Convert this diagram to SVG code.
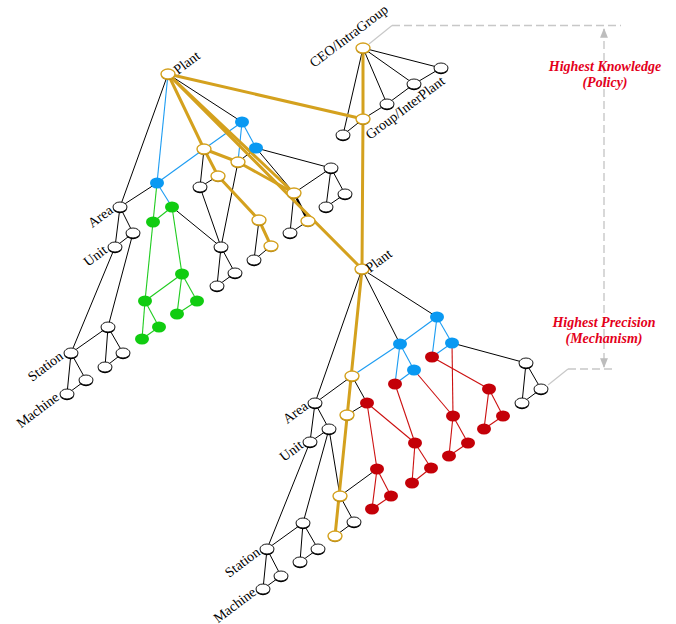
<svg xmlns="http://www.w3.org/2000/svg" xmlns:xlink="http://www.w3.org/1999/xlink" width="676" height="624" viewBox="0 0 676 624">
<style>
.k{stroke:#000;stroke-width:1;fill:none}
.kt{stroke:#000;stroke-width:2.4;fill:none}
.b{stroke:#1c9cf2;stroke-width:1.1;fill:none}
.g{stroke:#1fcc1f;stroke-width:1.1;fill:none}
.r{stroke:#cc1010;stroke-width:1.1;fill:none}
.au{stroke:#d4a11e;stroke-width:3;fill:none;stroke-linecap:round}
.gr{stroke:#c8c8c8;stroke-width:1.2;fill:none}
.dash{stroke:#c8c8c8;stroke-width:1.4;fill:none;stroke-dasharray:8 4}
.lbl{font-family:"Liberation Serif","Times New Roman",serif;font-size:14px;fill:#000}
.red{font-family:"Liberation Serif","Times New Roman",serif;font-size:14px;font-weight:bold;font-style:italic;fill:#e4001b;text-anchor:middle}
</style>
<defs>
<g id="nw"><ellipse cy="1.3" rx="7" ry="5" fill="#000"/><ellipse rx="7" ry="5" fill="#fff" stroke="#000" stroke-width="0.9"/></g>
<g id="ng"><ellipse cy="1.3" rx="7" ry="5" fill="#a57d12"/><ellipse rx="7" ry="5" fill="#fff" stroke="#d4a11e" stroke-width="1.4"/></g>
<ellipse id="nb" rx="7" ry="5.5" fill="#0a99f2"/>
<ellipse id="ngr" rx="7" ry="5.5" fill="#11cc11"/>
<ellipse id="nr" rx="7" ry="5.5" fill="#c40008"/>
<marker id="ah" viewBox="0 0 10 10" refX="9" refY="5" markerWidth="7" markerHeight="7" orient="auto-start-reverse"><path d="M0,1 L10,5 L0,9 z" fill="#bdbdbd"/></marker>
</defs>

<g id="guides">
<line class="gr" x1="369" y1="44" x2="392" y2="25.5"/>
<line class="dash" x1="392" y1="25.5" x2="621" y2="25.5"/>
<line class="gr" x1="548" y1="385" x2="568" y2="369"/>
<line class="dash" x1="568" y1="369" x2="614" y2="369"/>
<line class="dash" x1="604" y1="29" x2="604" y2="367" marker-start="url(#ah)" marker-end="url(#ah)"/>
</g>

<g id="connectors">
<!-- top -->
<line class="k" x1="363" y1="48" x2="343" y2="135"/>
<line class="k" x1="363" y1="48" x2="387" y2="104"/>
<line class="k" x1="363" y1="48" x2="414" y2="84"/>
<line class="k" x1="363" y1="48" x2="441" y2="68"/>
<line class="k" x1="343" y1="135" x2="363" y2="119"/>
<line class="k" x1="363" y1="119" x2="387" y2="104"/>
<line class="k" x1="387" y1="104" x2="414" y2="84"/>
<line class="k" x1="414" y1="84" x2="441" y2="68"/>
<!-- left black -->
<line class="k" x1="168" y1="74" x2="120" y2="207"/>
<line class="k" x1="168" y1="74" x2="242" y2="122"/>
<line class="k" x1="256" y1="148" x2="238" y2="162"/>
<line class="k" x1="256" y1="148" x2="331" y2="168"/>
<line class="k" x1="256" y1="148" x2="294" y2="193"/>
<line class="k" x1="331" y1="168" x2="294" y2="193"/>
<line class="k" x1="331" y1="168" x2="345" y2="194"/>
<line class="k" x1="331" y1="168" x2="326" y2="207"/>
<line class="k" x1="326" y1="207" x2="345" y2="194"/>
<line class="k" x1="294" y1="193" x2="290" y2="233"/>
<line class="k" x1="290" y1="233" x2="308" y2="221"/>
<line class="kt" x1="294" y1="193" x2="308" y2="221"/>
<line class="k" x1="204" y1="149" x2="200" y2="187"/>
<line class="k" x1="200" y1="187" x2="218" y2="176"/>
<line class="k" x1="200" y1="187" x2="221" y2="247"/>
<line class="k" x1="238" y1="162" x2="221" y2="247"/>
<line class="k" x1="221" y1="247" x2="235" y2="273"/>
<line class="k" x1="221" y1="247" x2="217" y2="286"/>
<line class="k" x1="217" y1="286" x2="235" y2="273"/>
<line class="k" x1="259" y1="220" x2="254" y2="260"/>
<line class="k" x1="254" y1="260" x2="271" y2="246"/>
<line class="k" x1="157" y1="183" x2="120" y2="207"/>
<line class="k" x1="172" y1="207" x2="221" y2="247"/>
<line class="k" x1="120" y1="207" x2="133" y2="233"/>
<line class="k" x1="120" y1="207" x2="115" y2="247"/>
<line class="k" x1="115" y1="247" x2="133" y2="233"/>
<line class="k" x1="115" y1="247" x2="71" y2="353"/>
<line class="k" x1="133" y1="233" x2="108" y2="327"/>
<line class="k" x1="71" y1="353" x2="108" y2="327"/>
<line class="k" x1="108" y1="327" x2="105" y2="367"/>
<line class="k" x1="108" y1="327" x2="123" y2="353"/>
<line class="k" x1="105" y1="367" x2="123" y2="353"/>
<line class="k" x1="71" y1="353" x2="67" y2="394"/>
<line class="k" x1="71" y1="353" x2="86" y2="380"/>
<line class="k" x1="67" y1="394" x2="86" y2="380"/>
<!-- left blue -->
<line class="b" x1="168" y1="74" x2="157" y2="183"/>
<line class="b" x1="242" y1="122" x2="256" y2="148"/>
<line class="b" x1="242" y1="122" x2="204" y2="149"/>
<line class="b" x1="242" y1="122" x2="238" y2="162"/>
<line class="b" x1="204" y1="149" x2="157" y2="183"/>
<line class="b" x1="157" y1="183" x2="172" y2="207"/>
<!-- left green -->
<line class="g" x1="157" y1="183" x2="153" y2="222"/>
<line class="g" x1="172" y1="207" x2="153" y2="222"/>
<line class="g" x1="172" y1="207" x2="182" y2="274"/>
<line class="g" x1="153" y1="222" x2="145" y2="301"/>
<line class="g" x1="182" y1="274" x2="145" y2="301"/>
<line class="g" x1="182" y1="274" x2="177" y2="314"/>
<line class="g" x1="182" y1="274" x2="197" y2="301"/>
<line class="g" x1="177" y1="314" x2="197" y2="301"/>
<line class="g" x1="145" y1="301" x2="142" y2="339"/>
<line class="g" x1="145" y1="301" x2="159" y2="327"/>
<line class="g" x1="142" y1="339" x2="159" y2="327"/>
<!-- right black -->
<line class="k" x1="362" y1="269" x2="315" y2="403"/>
<line class="k" x1="362" y1="269" x2="400" y2="344"/>
<line class="k" x1="362" y1="269" x2="437" y2="317"/>
<line class="k" x1="452" y1="343" x2="526" y2="363"/>
<line class="k" x1="526" y1="363" x2="541" y2="389"/>
<line class="k" x1="526" y1="363" x2="522" y2="403"/>
<line class="k" x1="522" y1="403" x2="541" y2="389"/>
<line class="k" x1="352" y1="376" x2="315" y2="403"/>
<line class="k" x1="352" y1="376" x2="367" y2="403"/>
<line class="k" x1="347" y1="415" x2="367" y2="403"/>
<line class="k" x1="315" y1="403" x2="329" y2="429"/>
<line class="k" x1="315" y1="403" x2="310" y2="442"/>
<line class="k" x1="310" y1="442" x2="329" y2="429"/>
<line class="k" x1="329" y1="429" x2="340" y2="496"/>
<line class="k" x1="329" y1="429" x2="303" y2="523"/>
<line class="k" x1="310" y1="442" x2="267" y2="549"/>
<line class="k" x1="267" y1="549" x2="303" y2="523"/>
<line class="k" x1="303" y1="523" x2="300" y2="562"/>
<line class="k" x1="303" y1="523" x2="318" y2="549"/>
<line class="k" x1="300" y1="562" x2="318" y2="549"/>
<line class="k" x1="267" y1="549" x2="263" y2="589"/>
<line class="k" x1="267" y1="549" x2="281" y2="576"/>
<line class="k" x1="263" y1="589" x2="281" y2="576"/>
<line class="k" x1="340" y1="496" x2="377" y2="469"/>
<line class="k" x1="340" y1="496" x2="354" y2="522"/>
<line class="k" x1="354" y1="522" x2="335" y2="536"/>
<!-- right blue -->
<line class="b" x1="437" y1="317" x2="400" y2="344"/>
<line class="b" x1="437" y1="317" x2="452" y2="343"/>
<line class="b" x1="437" y1="317" x2="432" y2="357"/>
<line class="b" x1="452" y1="343" x2="432" y2="357"/>
<line class="b" x1="400" y1="344" x2="352" y2="376"/>
<line class="b" x1="400" y1="344" x2="414" y2="370"/>
<line class="b" x1="400" y1="344" x2="395" y2="384"/>
<line class="b" x1="414" y1="370" x2="395" y2="384"/>
<!-- right red -->
<line class="r" x1="432" y1="357" x2="489" y2="389"/>
<line class="r" x1="489" y1="389" x2="484" y2="429"/>
<line class="r" x1="489" y1="389" x2="503" y2="416"/>
<line class="r" x1="484" y1="429" x2="503" y2="416"/>
<line class="r" x1="452" y1="343" x2="453" y2="416"/>
<line class="r" x1="414" y1="370" x2="453" y2="416"/>
<line class="r" x1="453" y1="416" x2="468" y2="443"/>
<line class="r" x1="453" y1="416" x2="449" y2="456"/>
<line class="r" x1="449" y1="456" x2="468" y2="443"/>
<line class="r" x1="395" y1="384" x2="415" y2="443"/>
<line class="r" x1="367" y1="403" x2="415" y2="443"/>
<line class="r" x1="367" y1="403" x2="377" y2="469"/>
<line class="r" x1="415" y1="443" x2="431" y2="468"/>
<line class="r" x1="415" y1="443" x2="412" y2="483"/>
<line class="r" x1="412" y1="483" x2="431" y2="468"/>
<line class="r" x1="377" y1="469" x2="391" y2="496"/>
<line class="r" x1="377" y1="469" x2="372" y2="509"/>
<line class="r" x1="372" y1="509" x2="391" y2="496"/>
<!-- gold -->
<line class="au" x1="168" y1="74" x2="363" y2="119"/>
<line class="au" x1="363" y1="48" x2="363" y2="119"/>
<line class="au" x1="363" y1="119" x2="362" y2="269"/>
<line class="au" x1="362" y1="269" x2="335" y2="536"/>
<line class="au" x1="168" y1="74" x2="362" y2="269"/>
<line class="au" x1="168" y1="74" x2="294" y2="193"/>
<line class="au" x1="168" y1="74" x2="204" y2="149"/>
<line class="au" x1="204" y1="149" x2="238" y2="162"/>
<line class="au" x1="238" y1="162" x2="294" y2="193"/>
<line class="au" x1="204" y1="149" x2="218" y2="176"/>
<line class="au" x1="218" y1="176" x2="259" y2="220"/>
<line class="au" x1="259" y1="220" x2="271" y2="246"/>
</g>

<g id="T_ceo"><use href="#ng" x="363" y="48"/></g>
<g id="T_gip"><use href="#ng" x="363" y="119"/></g>
<g id="T_a"><use href="#nw" x="343" y="135"/></g>
<g id="T_b"><use href="#nw" x="387" y="104"/></g>
<g id="T_c"><use href="#nw" x="414" y="84"/></g>
<g id="T_d"><use href="#nw" x="441" y="68"/></g>

<g id="L_plant"><use href="#ng" x="168" y="74"/></g>
<g id="L_b1"><use href="#nb" x="242" y="122"/></g>
<g id="L_b2"><use href="#nb" x="256" y="148"/></g>
<g id="L_g1"><use href="#ng" x="204" y="149"/></g>
<g id="L_g2"><use href="#ng" x="238" y="162"/></g>
<g id="L_g3"><use href="#ng" x="218" y="176"/></g>
<g id="L_b3"><use href="#nb" x="157" y="183"/></g>
<g id="L_w1"><use href="#nw" x="200" y="187"/></g>
<g id="L_w2"><use href="#nw" x="331" y="168"/></g>
<g id="L_w3"><use href="#nw" x="345" y="194"/></g>
<g id="L_w4"><use href="#nw" x="326" y="207"/></g>
<g id="L_g4"><use href="#ng" x="294" y="193"/></g>
<g id="L_g5"><use href="#ng" x="308" y="221"/></g>
<g id="L_w5"><use href="#nw" x="290" y="233"/></g>
<g id="L_w6"><use href="#nw" x="221" y="247"/></g>
<g id="L_w7"><use href="#nw" x="235" y="273"/></g>
<g id="L_w8"><use href="#nw" x="217" y="286"/></g>
<g id="L_g6"><use href="#ng" x="259" y="220"/></g>
<g id="L_g7"><use href="#ng" x="271" y="246"/></g>
<g id="L_w9"><use href="#nw" x="254" y="260"/></g>
<g id="L_gr1"><use href="#ngr" x="172" y="207"/></g>
<g id="L_gr2"><use href="#ngr" x="153" y="222"/></g>
<g id="L_gr3"><use href="#ngr" x="182" y="274"/></g>
<g id="L_gr4"><use href="#ngr" x="145" y="301"/></g>
<g id="L_gr5"><use href="#ngr" x="197" y="301"/></g>
<g id="L_gr6"><use href="#ngr" x="159" y="327"/></g>
<g id="L_gr7"><use href="#ngr" x="142" y="339"/></g>
<g id="L_gr8"><use href="#ngr" x="177" y="314"/></g>
<g id="L_area"><use href="#nw" x="120" y="207"/></g>
<g id="L_w10"><use href="#nw" x="133" y="233"/></g>
<g id="L_unit"><use href="#nw" x="115" y="247"/></g>
<g id="L_w11"><use href="#nw" x="108" y="327"/></g>
<g id="L_station"><use href="#nw" x="71" y="353"/></g>
<g id="L_w12"><use href="#nw" x="123" y="353"/></g>
<g id="L_w13"><use href="#nw" x="105" y="367"/></g>
<g id="L_w14"><use href="#nw" x="86" y="380"/></g>
<g id="L_machine"><use href="#nw" x="67" y="394"/></g>

<g id="R_plant"><use href="#ng" x="362" y="269"/></g>
<g id="R_b1"><use href="#nb" x="437" y="317"/></g>
<g id="R_b2"><use href="#nb" x="400" y="344"/></g>
<g id="R_b3"><use href="#nb" x="452" y="343"/></g>
<g id="R_b4"><use href="#nb" x="414" y="370"/></g>
<g id="R_r1"><use href="#nr" x="432" y="357"/></g>
<g id="R_r2"><use href="#nr" x="395" y="384"/></g>
<g id="R_w1"><use href="#nw" x="526" y="363"/></g>
<g id="R_w2"><use href="#nw" x="541" y="389"/></g>
<g id="R_w3"><use href="#nw" x="522" y="403"/></g>
<g id="R_g1"><use href="#ng" x="352" y="376"/></g>
<g id="R_g2"><use href="#ng" x="347" y="415"/></g>
<g id="R_r3"><use href="#nr" x="367" y="403"/></g>
<g id="R_r4"><use href="#nr" x="489" y="389"/></g>
<g id="R_r5"><use href="#nr" x="503" y="416"/></g>
<g id="R_r6"><use href="#nr" x="484" y="429"/></g>
<g id="R_r7"><use href="#nr" x="453" y="416"/></g>
<g id="R_r8"><use href="#nr" x="468" y="443"/></g>
<g id="R_r9"><use href="#nr" x="449" y="456"/></g>
<g id="R_r10"><use href="#nr" x="415" y="443"/></g>
<g id="R_r11"><use href="#nr" x="431" y="468"/></g>
<g id="R_r12"><use href="#nr" x="412" y="483"/></g>
<g id="R_r13"><use href="#nr" x="377" y="469"/></g>
<g id="R_r14"><use href="#nr" x="391" y="496"/></g>
<g id="R_r15"><use href="#nr" x="372" y="509"/></g>
<g id="R_area"><use href="#nw" x="315" y="403"/></g>
<g id="R_w4"><use href="#nw" x="329" y="429"/></g>
<g id="R_unit"><use href="#nw" x="310" y="442"/></g>
<g id="R_g3"><use href="#ng" x="340" y="496"/></g>
<g id="R_w5"><use href="#nw" x="354" y="522"/></g>
<g id="R_g4"><use href="#ng" x="335" y="536"/></g>
<g id="R_w6"><use href="#nw" x="303" y="523"/></g>
<g id="R_station"><use href="#nw" x="267" y="549"/></g>
<g id="R_w7"><use href="#nw" x="318" y="549"/></g>
<g id="R_w8"><use href="#nw" x="300" y="562"/></g>
<g id="R_w9"><use href="#nw" x="281" y="576"/></g>
<g id="R_machine"><use href="#nw" x="263" y="589"/></g>

<g id="labels">
<text class="lbl" transform="translate(178,75) rotate(-37)">Plant</text>
<text class="lbl" transform="translate(314,68) rotate(-37)">CEO/IntraGroup</text>
<text class="lbl" transform="translate(370,140) rotate(-37)">Group/InterPlant</text>
<text class="lbl" transform="translate(370,273) rotate(-37)">Plant</text>
<text class="lbl" text-anchor="end" transform="translate(114,212) rotate(-37)">Area</text>
<text class="lbl" text-anchor="end" transform="translate(108,252) rotate(-37)">Unit</text>
<text class="lbl" text-anchor="end" transform="translate(64,358) rotate(-37)">Station</text>
<text class="lbl" text-anchor="end" transform="translate(60,399) rotate(-37)">Machine</text>
<text class="lbl" text-anchor="end" transform="translate(309,408) rotate(-37)">Area</text>
<text class="lbl" text-anchor="end" transform="translate(304,447) rotate(-37)">Unit</text>
<text class="lbl" text-anchor="end" transform="translate(261,554) rotate(-37)">Station</text>
<text class="lbl" text-anchor="end" transform="translate(257,594) rotate(-37)">Machine</text>
<text class="red" x="605" y="71">Highest Knowledge</text>
<text class="red" x="605" y="87">(Policy)</text>
<text class="red" x="604" y="327">Highest Precision</text>
<text class="red" x="604" y="343">(Mechanism)</text>
</g>
</svg>
